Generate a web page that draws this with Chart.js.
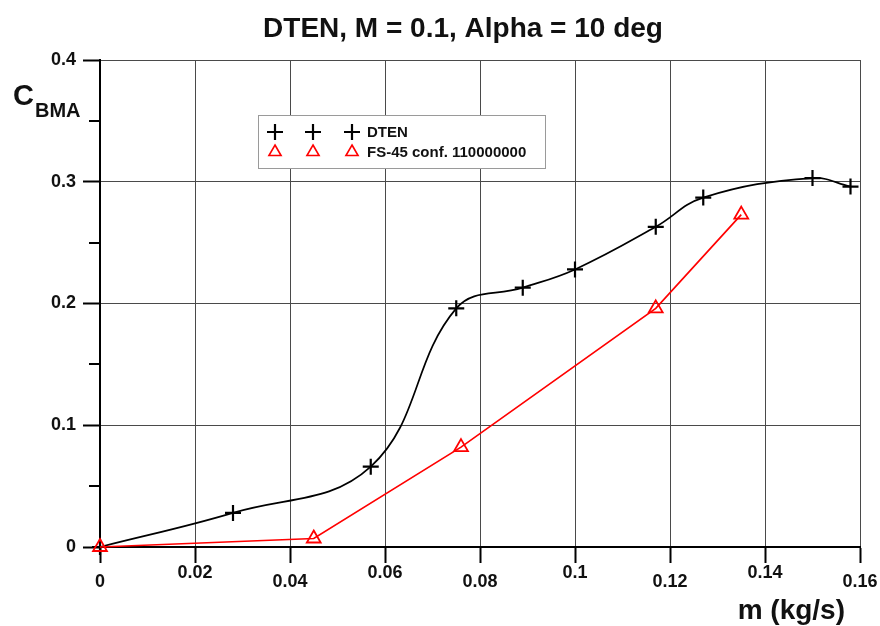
<!DOCTYPE html>
<html>
<head>
<meta charset="utf-8">
<title>DTEN, M = 0.1, Alpha = 10 deg</title>
<script src="https://cdn.jsdelivr.net/npm/chart.js@4/dist/chart.umd.min.js"></script>
<style>
  html, body { margin: 0; padding: 0; background: #ffffff; }
  canvas { display: block; }
</style>
</head>
<body>
<canvas id="chart" width="880" height="626"></canvas>
<script>
// ---- chart data ----
const titleText = 'DTEN, M = 0.1, Alpha = 10 deg';
const seriesNames = ['DTEN', 'FS-45 conf. 110000000'];
const xTickLabels = ['0', '0.02', '0.04', '0.06', '0.08', '0.1', '0.12', '0.14', '0.16'];
const yTickLabels = ['0', '0.1', '0.2', '0.3', '0.4'];

// mass flow m (kg/s) and C_BMA for each configuration
const dtenMassFlow = [0, 0.028, 0.057, 0.075, 0.089, 0.100, 0.117, 0.127, 0.150, 0.158];
const dtenCbma     = [0, 0.028, 0.066, 0.196, 0.213, 0.228, 0.263, 0.287, 0.303, 0.296];
const fsMassFlow   = [0, 0.045, 0.076, 0.117, 0.135];
const fsCbma       = [0, 0.007, 0.082, 0.196, 0.273];

const toPoints = (xs, ys) => xs.map((x, i) => ({ x: x, y: ys[i] }));

const FONT = '"Liberation Sans", Arial, sans-serif';
const INK = '#111111';

// cross / triangle markers, same geometry Chart.js uses for its point styles
function drawMarker(ctx, style, x, y, r, color, lw) {
  ctx.save();
  ctx.strokeStyle = color;
  ctx.lineWidth = lw;
  ctx.beginPath();
  if (style === 'cross') {
    ctx.moveTo(x, y - r); ctx.lineTo(x, y + r);
    ctx.moveTo(x - r, y); ctx.lineTo(x + r, y);
  } else {
    let a = 0;
    const step = Math.PI * 2 / 3;
    ctx.moveTo(x + Math.sin(a) * r, y - Math.cos(a) * r);
    a += step; ctx.lineTo(x + Math.sin(a) * r, y - Math.cos(a) * r);
    a += step; ctx.lineTo(x + Math.sin(a) * r, y - Math.cos(a) * r);
    ctx.closePath();
  }
  ctx.stroke();
  ctx.restore();
}

// title, axis titles, staggered x labels, minor y ticks and the legend box
const decorations = {
  id: 'decorations',
  afterDraw(chart) {
    const ctx = chart.ctx;
    const xs = chart.scales.x;
    const ys = chart.scales.y;
    const area = chart.chartArea;
    ctx.save();

    // title
    ctx.fillStyle = INK;
    ctx.font = 'bold 28px ' + FONT;
    ctx.textAlign = 'center';
    ctx.textBaseline = 'alphabetic';
    ctx.fillText(titleText, 463, 37);

    // y axis title: C with subscript BMA
    ctx.textAlign = 'left';
    ctx.font = 'bold 29px ' + FONT;
    ctx.fillText('C', 13, 105);
    const cw = ctx.measureText('C').width;
    ctx.font = 'bold 20px ' + FONT;
    ctx.fillText('BMA', 13 + cw + 1, 117);

    // x axis title
    ctx.font = 'bold 28px ' + FONT;
    ctx.textAlign = 'right';
    ctx.fillText('m (kg/s)', 845, 619);

    // x tick labels, alternating rows
    ctx.font = 'bold 18px ' + FONT;
    ctx.textAlign = 'center';
    ctx.textBaseline = 'middle';
    xs.ticks.forEach((t, i) => {
      const px = xs.getPixelForTick(i);
      const py = (i % 2 === 0) ? 582 : 573;
      ctx.fillText(xTickLabels[i], px, py);
    });

    // minor ticks halfway between the y major ticks
    ctx.strokeStyle = '#000';
    ctx.lineWidth = 2;
    for (let i = 0; i < ys.ticks.length - 1; i++) {
      const mid = (ys.ticks[i].value + ys.ticks[i + 1].value) / 2;
      const py = Math.round(ys.getPixelForValue(mid)) + 0.0;
      ctx.beginPath();
      ctx.moveTo(area.left - 11, py);
      ctx.lineTo(area.left, py);
      ctx.stroke();
    }

    // legend
    const bx = 258, by = 115, bw = 287, bh = 53;
    ctx.fillStyle = '#ffffff';
    ctx.fillRect(bx, by, bw, bh);
    ctx.strokeStyle = '#9a9a9a';
    ctx.lineWidth = 1;
    ctx.strokeRect(bx + 0.5, by + 0.5, bw, bh);
    const markerX = [275, 313, 352];
    const rows = [
      { y: 132, style: 'cross', color: '#000000', lw: 2.2, r: 8 },
      { y: 152, style: 'triangle', color: '#ff0000', lw: 1.6, r: 7 }
    ];
    ctx.font = 'bold 15px ' + FONT;
    ctx.textAlign = 'left';
    ctx.textBaseline = 'middle';
    rows.forEach((row, k) => {
      markerX.forEach(mx => drawMarker(ctx, row.style, mx, row.y, row.r, row.color, row.lw));
      ctx.fillStyle = INK;
      ctx.fillText(seriesNames[k], 367, row.y + 1);
    });

    ctx.restore();
  }
};

new Chart(document.getElementById('chart'), {
  type: 'scatter',
  data: {
    datasets: [
      {
        label: seriesNames[1],
        data: toPoints(fsMassFlow, fsCbma),
        showLine: true,
        borderColor: '#ff0000',
        borderWidth: 1.7,
        tension: 0,
        pointStyle: 'triangle',
        pointRadius: 8,
        pointBorderWidth: 1.8,
        pointBorderColor: '#ff0000',
        pointBackgroundColor: 'rgba(255,255,255,0)',
        clip: false
      },
      {
        label: seriesNames[0],
        data: toPoints(dtenMassFlow, dtenCbma),
        showLine: true,
        borderColor: '#000000',
        borderWidth: 1.7,
        tension: 0.4,
        pointStyle: 'cross',
        pointRadius: 8,
        pointBorderWidth: 2.2,
        pointBorderColor: '#000000',
        clip: false
      }
    ]
  },
  options: {
    responsive: false,
    animation: false,
    devicePixelRatio: 1,
    events: [],
    layout: { padding: { top: 60, right: 20, left: 0, bottom: 0 } },
    plugins: {
      legend: { display: false },
      tooltip: { enabled: false },
      title: { display: false }
    },
    scales: {
      x: {
        type: 'linear',
        min: 0,
        max: 0.16,
        ticks: { stepSize: 0.02, display: false },
        grid: { color: '#4a4a4a', lineWidth: 1, tickColor: '#000', tickWidth: 2, tickLength: 16 },
        border: { color: '#000', width: 2 },
        afterFit(scale) { scale.height = 79; }
      },
      y: {
        type: 'linear',
        min: 0,
        max: 0.4,
        ticks: {
          stepSize: 0.1,
          padding: 7,
          color: INK,
          font: { family: FONT, size: 18, weight: 'bold' },
          callback: (v, i) => yTickLabels[i]
        },
        grid: { color: '#4a4a4a', lineWidth: 1, tickColor: '#000', tickWidth: 2, tickLength: 17 },
        border: { color: '#000', width: 2 },
        afterFit(scale) { scale.width = 100; }
      }
    }
  },
  plugins: [decorations]
});
</script>
</body>
</html>
